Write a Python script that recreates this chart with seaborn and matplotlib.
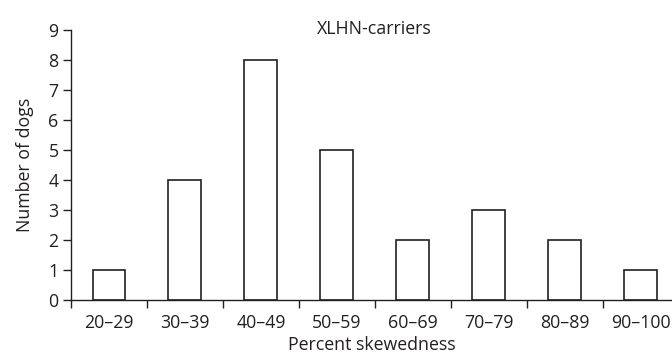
import matplotlib
matplotlib.use("Agg")
import matplotlib.pyplot as plt
import seaborn as sns
import pandas as pd
import numpy as np
from matplotlib.ticker import FixedLocator

categories = ["20–29", "30–39", "40–49", "50–59", "60–69", "70–79", "80–89", "90–100"]
counts = [1, 4, 8, 5, 2, 3, 2, 1]
y_ticks = [0, 1, 2, 3, 4, 5, 6, 7, 8, 9]

title = "XLHN-carriers"
x_label = "Percent skewedness"
y_label = "Number of dogs"

sns.set_theme(style="ticks")
plt.rcParams['font.family'] = ['Open Sans', 'DejaVu Sans']
ink = "#231f20"
plt.rcParams['text.color'] = ink
plt.rcParams['axes.labelcolor'] = ink
plt.rcParams['xtick.color'] = ink
plt.rcParams['ytick.color'] = ink

df = pd.DataFrame({"category": categories, "count": counts})

fig = plt.figure(figsize=(6.72, 3.58), dpi=100)
ax = fig.add_axes([71 / 672, 58 / 358, 601 / 672, 270 / 358])

sns.barplot(data=df, x="category", y="count", order=categories, ax=ax,
            color="white", edgecolor=ink, linewidth=1.2, width=0.434,
            saturation=1)

fs = 12.8
ax.set_xlim(-0.5, 7.41)
ax.set_ylim(0, 9)
ax.set_yticks(y_ticks)
ax.set_yticklabels([str(v) for v in y_ticks], fontsize=fs)
ax.set_xticks(range(len(categories)))
ax.set_xticklabels(categories, fontsize=fs)
ax.xaxis.set_minor_locator(FixedLocator(np.arange(-0.5, len(categories), 1.0)))
ax.tick_params(axis="x", which="major", length=0, pad=10)
ax.tick_params(axis="x", which="minor", length=6, width=1, direction="out")
ax.tick_params(axis="y", which="major", length=6, width=1, direction="out", pad=3)

for s in ["top", "right"]:
    ax.spines[s].set_visible(False)
for s in ["left", "bottom"]:
    ax.spines[s].set_linewidth(1)
    ax.spines[s].set_color(ink)

ax.set_xlabel(x_label, fontsize=fs, labelpad=3)
ax.set_ylabel(y_label, fontsize=fs, labelpad=10)
ax.set_title(title, fontsize=fs, pad=0, x=0.505, y=0.985)

fig.savefig("out.png", dpi=100)
